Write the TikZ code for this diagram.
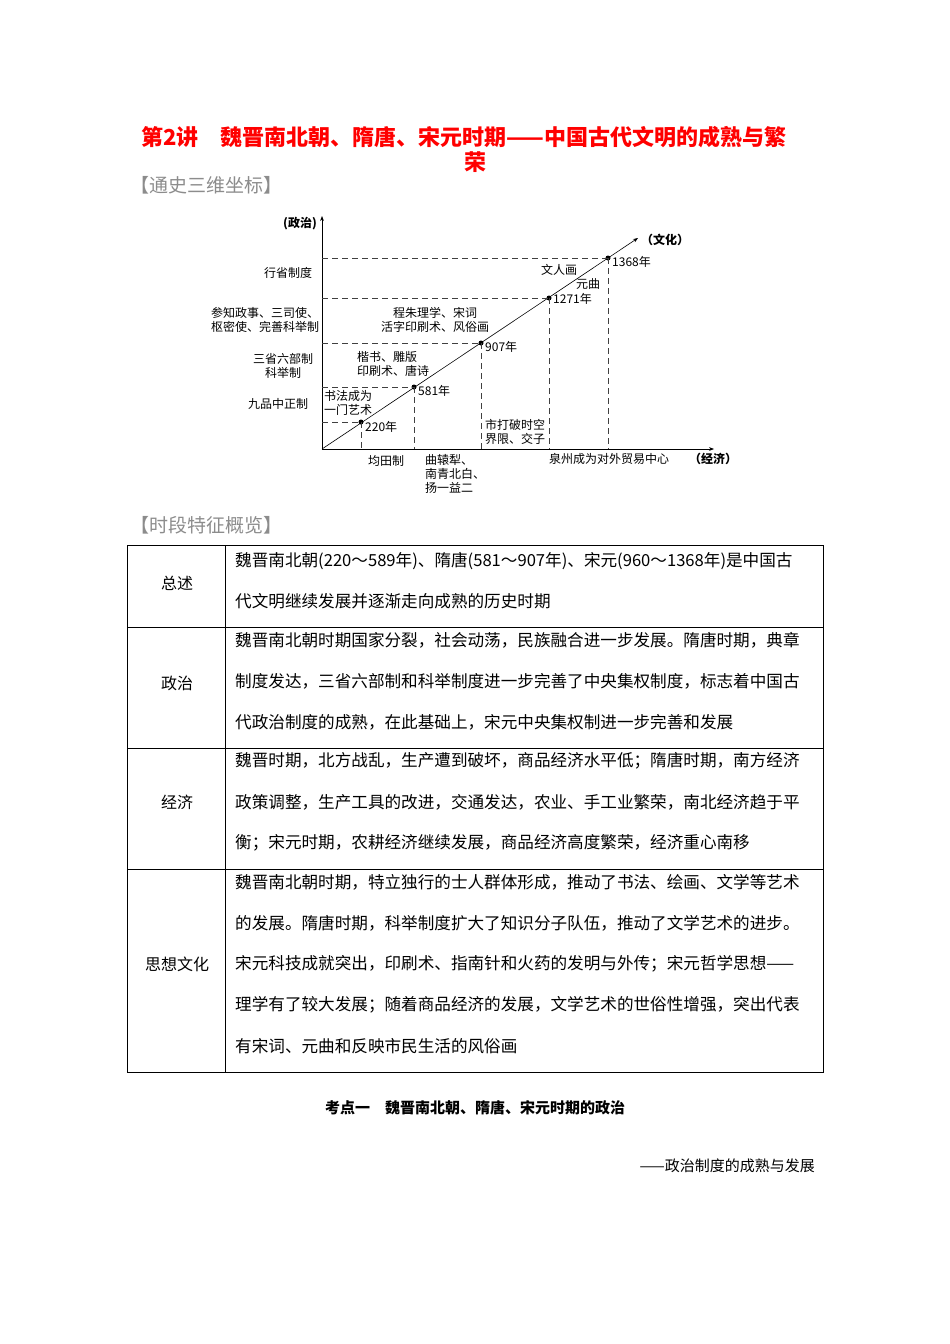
\documentclass[tikz,border=0pt]{standalone}
\usepackage{fontspec}
\setmainfont{Noto Sans CJK SC}
\usetikzlibrary{arrows.meta}
\begin{document}
\begin{tikzpicture}[x=1pt,y=-1pt,
  lab/.style={font=\fontsize{12}{14}\selectfont,inner sep=0pt,align=center},
  dashln/.style={draw=black!75,dash pattern=on 6pt off 4pt,line width=0.5pt},
  dotp/.style={circle,fill=black,inner sep=0pt,minimum size=5pt},
  tx/.style={font=\fontsize{16.6}{18}\selectfont,anchor=west,inner sep=0pt},
  hd/.style={font=\fontsize{16}{18}\selectfont,inner sep=0pt},
  sec/.style={font=\fontsize{19}{21}\selectfont,text=black!45,anchor=west,inner sep=0pt}]
\useasboundingbox (0,0) rectangle (950,1344);
% title
\node[anchor=west,inner sep=0pt,text=red,font=\fontsize{22}{24}\selectfont\bfseries] (t1) at (141,137) {第2讲\quad 魏晋南北朝、隋唐、宋元时期——中国古代文明的成熟与繁};
\node[inner sep=0pt,text=red,font=\fontsize{22}{24}\selectfont\bfseries] (t2) at (475,162) {荣};
\node[sec] (s1) at (130,185) {【通史三维坐标】};
\node[sec] (s2) at (130,525) {【时段特征概览】};
% chart
\coordinate (O) at (322,449);
\coordinate (Ytop) at (322,216);
\coordinate (Xend) at (714,449);
\coordinate (Dend) at (638,238);
\draw[line width=0.6pt,-{Stealth[length=5pt]}] (O) -- (Ytop);
\draw[line width=0.6pt,-{Stealth[length=5pt]}] (O) -- (Xend);
\draw[line width=0.6pt,-{Stealth[length=5pt]}] (O) -- (Dend);
\node[dotp] (p1) at (361,422) {};
\node[dotp] (p2) at (414,387) {};
\node[dotp] (p3) at (481,343) {};
\node[dotp] (p4) at (549,298) {};
\node[dotp] (p5) at (608,258) {};
\foreach \p/\y in {p1/422,p2/387,p3/343,p4/298,p5/258}{
  \draw[dashln] (322,\y) -- (\p.center);
  \draw[dashln] (\p.center) -- (\p.center |- O);
}
\node[lab,anchor=west] (y1) at (365,427) {220年};
\node[lab,anchor=west] (y2) at (418,391) {581年};
\node[lab,anchor=west] (y3) at (485,347) {907年};
\node[lab,anchor=west] (y4) at (553,299) {1271年};
\node[lab,anchor=west] (y5) at (612,262) {1368年};
\node[lab,font=\fontsize{12}{14}\selectfont\bfseries] (zz) at (300,224) {(政治)};
\node[lab,font=\fontsize{12}{14}\selectfont\bfseries,anchor=west] (wh) at (641,240) {（文化）};
\node[lab,font=\fontsize{12}{14}\selectfont\bfseries] (jj) at (713,459) {（经济）};
\node[lab] (l1) at (288,273) {行省制度};
\node[lab] (l2) at (265,320) {参知政事、三司使、\\枢密使、完善科举制};
\node[lab] (l3) at (283,366) {三省六部制\\科举制};
\node[lab] (l4) at (278,404) {九品中正制};
\node[lab,align=left,anchor=west] (c1) at (324,403) {书法成为\\一门艺术};
\node[lab,align=left] (c2) at (393,364) {楷书、雕版\\印刷术、唐诗};
\node[lab] (c3) at (435,320) {程朱理学、宋词\\活字印刷术、风俗画};
\node[lab] (c4) at (559,270) {文人画};
\node[lab] (c5) at (588,284) {元曲};
\node[lab,align=left] (e1) at (386,461) {均田制};
\node[lab,align=left,anchor=north west] (e2) at (425,454) {曲辕犁、\\南青北白、\\扬一益二};
\node[lab,align=left] (e3) at (515,432) {市打破时空\\界限、交子};
\node[lab] (e4) at (609,459) {泉州成为对外贸易中心};
% table
\draw[line width=0.6pt] (127,545) rectangle (823,1072);
\draw[line width=0.6pt] (225,545) -- (225,1072);
\foreach \y in {627,748,869} \draw[line width=0.6pt] (127,\y) -- (823,\y);
\node[hd] (h1) at (177,583) {总述};
\node[hd] (h2) at (177,683) {政治};
\node[hd] (h3) at (177,802) {经济};
\node[hd] (h4) at (177,964) {思想文化};
\node[tx] (r1a) at (235,561) {魏晋南北朝(220～589年)、隋唐(581～907年)、宋元(960～1368年)是中国古};
\node[tx] (r1b) at (235,601) {代文明继续发展并逐渐走向成熟的历史时期};
\node[tx] (r2a) at (235,640) {魏晋南北朝时期国家分裂，社会动荡，民族融合进一步发展。隋唐时期，典章};
\node[tx] (r2b) at (235,681) {制度发达，三省六部制和科举制度进一步完善了中央集权制度，标志着中国古};
\node[tx] (r2c) at (235,722) {代政治制度的成熟，在此基础上，宋元中央集权制进一步完善和发展};
\node[tx] (r3a) at (235,761) {魏晋时期，北方战乱，生产遭到破坏，商品经济水平低；隋唐时期，南方经济};
\node[tx] (r3b) at (235,802) {政策调整，生产工具的改进，交通发达，农业、手工业繁荣，南北经济趋于平};
\node[tx] (r3c) at (235,843) {衡；宋元时期，农耕经济继续发展，商品经济高度繁荣，经济重心南移};
\node[tx] (r4a) at (235,882) {魏晋南北朝时期，特立独行的士人群体形成，推动了书法、绘画、文学等艺术};
\node[tx] (r4b) at (235,923) {的发展。隋唐时期，科举制度扩大了知识分子队伍，推动了文学艺术的进步。};
\node[tx] (r4c) at (235,964) {宋元科技成就突出，印刷术、指南针和火药的发明与外传；宋元哲学思想——};
\node[tx] (r4d) at (235,1005) {理学有了较大发展；随着商品经济的发展，文学艺术的世俗性增强，突出代表};
\node[tx] (r4e) at (235,1046) {有宋词、元曲和反映市民生活的风俗画};
\node[inner sep=0pt,font=\fontsize{15}{17}\selectfont\bfseries] (k1) at (475,1108) {考点一\quad 魏晋南北朝、隋唐、宋元时期的政治};
\node[inner sep=0pt,anchor=east,font=\fontsize{15}{17}\selectfont] (k2) at (815,1166) {——政治制度的成熟与发展};
\end{tikzpicture}
\end{document}
